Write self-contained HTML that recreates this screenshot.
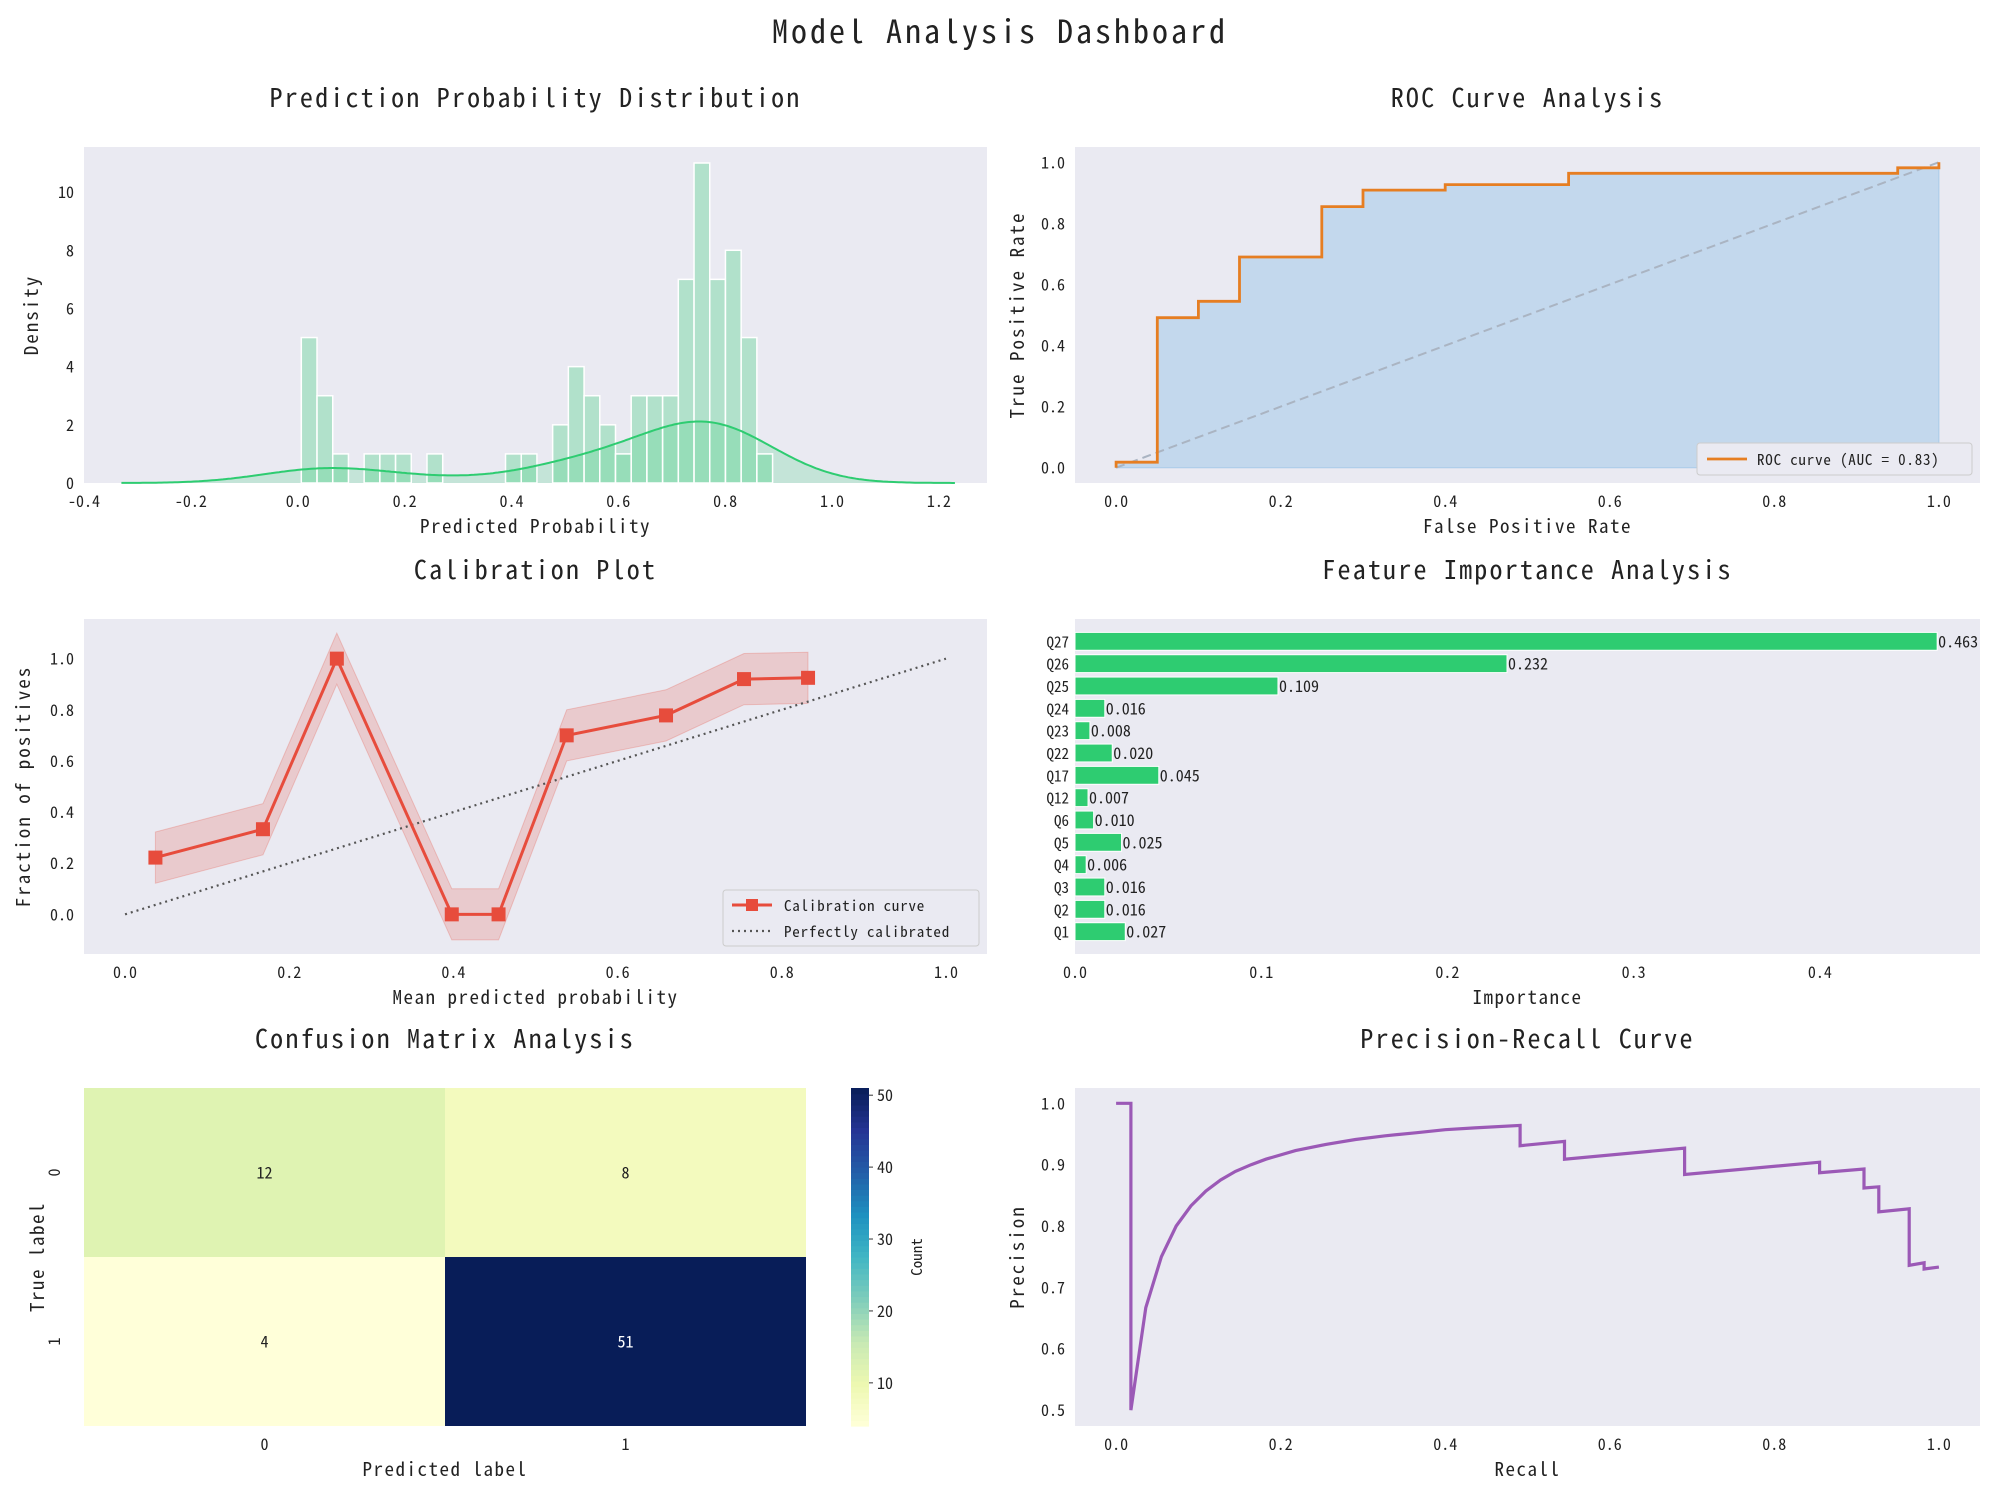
<!DOCTYPE html>
<html><head><meta charset="utf-8"><style>
html,body{margin:0;padding:0;background:#fff}
svg{display:block;font-family:"WenQuanYi Zen Hei Mono","Noto Sans Mono CJK SC","Liberation Mono",monospace}
</style></head><body>
<svg id="c" width="2000" height="1500" viewBox="0 0 2000 1500" xmlns="http://www.w3.org/2000/svg">
<text x="1000" y="43" text-anchor="middle" font-size="32" letter-spacing="3" fill="#222">Model Analysis Dashboard</text>
</svg>
<script>
// ---- data ----
const histBinStart = 0.0067;
const histBinWidth = 0.0294;
const histCounts = [5,3,1,0,1,1,1,0,1,0,0,0,0,1,1,0,2,4,3,2,1,3,3,3,7,11,7,8,5,1];
const histXTicks = [-0.4,-0.2,0.0,0.2,0.4,0.6,0.8,1.0,1.2];
const histYTicks = [0,2,4,6,8,10];
const kdeScale = 0.45;
const rocFpr = [0,0,0.05,0.05,0.1,0.1,0.15,0.15,0.25,0.25,0.3,0.3,0.4,0.4,0.55,0.55,0.95,0.95,1,1];
const rocTpr = [0,0.018,0.018,0.491,0.491,0.545,0.545,0.69,0.69,0.855,0.855,0.909,0.909,0.927,0.927,0.964,0.964,0.982,0.982,1];
const unitTicks = [0,0.2,0.4,0.6,0.8,1.0];
const calX = [0.037,0.168,0.258,0.398,0.455,0.538,0.659,0.754,0.832];
const calY = [0.222,0.333,1.0,0.0,0.0,0.70,0.778,0.92,0.925];
const featNames = ["Q1","Q2","Q3","Q4","Q5","Q6","Q12","Q17","Q22","Q23","Q24","Q25","Q26","Q27"];
const featVals = [0.027,0.016,0.016,0.006,0.025,0.010,0.007,0.045,0.020,0.008,0.016,0.109,0.232,0.463];
const featXTicks = [0,0.1,0.2,0.3,0.4];
const cmVals = [[12,8],[4,51]];
const cbTicks = [10,20,30,40,50];
const prRecall = [0,0.018,0.018,0.036,0.055,0.073,0.091,0.109,0.127,0.145,0.164,0.182,0.218,0.255,0.291,0.327,0.364,0.4,0.436,0.491,0.491,0.545,0.545,0.691,0.691,0.855,0.855,0.909,0.909,0.927,0.927,0.964,0.964,0.982,0.982,1.0];
const prPrecision = [1,1,0.5,0.667,0.75,0.8,0.833,0.857,0.875,0.889,0.9,0.909,0.923,0.933,0.941,0.947,0.952,0.957,0.96,0.964,0.931,0.938,0.909,0.927,0.884,0.904,0.887,0.893,0.862,0.864,0.823,0.828,0.736,0.740,0.730,0.733];
const prYTicks = [0.5,0.6,0.7,0.8,0.9,1.0];

const svg = document.getElementById('c');
const NS = 'http://www.w3.org/2000/svg';
function el(tag, attrs, parent){const e=document.createElementNS(NS,tag);for(const k in attrs)e.setAttribute(k,attrs[k]);(parent||svg).appendChild(e);return e;}
function txt(x,y,s,size,anchor,parent,rot){const t=el('text',{x:x,y:y,'font-size':size,'text-anchor':anchor||'middle',fill:'#222'},parent);if(rot)t.setAttribute('transform','rotate(-90 '+x+' '+y+')');t.textContent=s;return t;}
function axes(name,x0,y0,w,h,xmin,xmax,ymin,ymax){
  const g=el('g',{});
  
  
  const bg=el('rect',{x:x0,y:y0,width:w,height:h,fill:'#eaeaf2'},g);
  
  
  return {g:g,sx:v=>x0+(v-xmin)/(xmax-xmin)*w,sy:v=>y0+h-(v-ymin)/(ymax-ymin)*h,x0,y0,w,h};
}
function fmt(v,d){return v.toFixed(d);}
function xticks(a,vals,d,name){vals.forEach(v=>{const t=txt(a.sx(v),a.y0+a.h+24,fmt(v,d),16,'middle',a.g);});}
function yticks(a,vals,d,name){vals.forEach(v=>{const t=txt(a.x0-10,a.sy(v)+6,fmt(v,d),16,'end',a.g);});}
function labels(a,title,xl,yl,name,ylx){
  let t=txt(a.x0+a.w/2,a.y0-40,title,26,'middle',a.g);t.setAttribute('letter-spacing','2.2');
  t=txt(a.x0+a.w/2,a.y0+a.h+50,xl,19,'middle',a.g);t.setAttribute('letter-spacing','1.5');
  t=txt(ylx,a.y0+a.h/2,yl,19,'middle',a.g,true);t.setAttribute('letter-spacing','2');
}
function pathOf(xs,ys,a){return xs.map((x,i)=>(i?'L':'M')+a.sx(x).toFixed(1)+','+a.sy(ys[i]).toFixed(1)).join('');}

// ---- Panel 1: histogram ----
(function(){
  const a=axes('histogram-panel',84,147,903,336,-0.4,1.29,0,11.55);
  let n=0,m=0;histCounts.forEach((c,i)=>{const x=histBinStart+(i+0.5)*histBinWidth;n+=c;m+=c*x;});m/=n;
  let v=0;histCounts.forEach((c,i)=>{const x=histBinStart+(i+0.5)*histBinWidth;v+=c*(x-m)*(x-m);});v/=(n-1);
  const bw=Math.sqrt(v)*Math.pow(n,-0.2);
  const xs=[],ys=[];
  for(let x=-0.33;x<=1.23;x+=0.005){let d=0;histCounts.forEach((c,i)=>{const xc=histBinStart+(i+0.5)*histBinWidth;d+=c*Math.exp(-0.5*Math.pow((x-xc)/bw,2));});d=d/(n*bw*Math.sqrt(2*Math.PI));xs.push(x);ys.push(d*n*histBinWidth*kdeScale);}
  const p=pathOf(xs,ys,a);
  const f=el('path',{d:p+'L'+a.sx(xs[xs.length-1])+','+a.sy(0)+'L'+a.sx(xs[0])+','+a.sy(0)+'Z',fill:'#2ecc71','fill-opacity':0.2},a.g);
  
  histCounts.forEach((c,i)=>{ if(c<=0) return;
    const x0=histBinStart+i*histBinWidth;
    const r=el('rect',{x:a.sx(x0),y:a.sy(c),width:a.sx(x0+histBinWidth)-a.sx(x0),height:a.sy(0)-a.sy(c),fill:'#2ecc71','fill-opacity':0.3,stroke:'#fff','stroke-width':1.5},a.g);
    
    
  });
  const l=el('path',{d:p,fill:'none',stroke:'#2ecc71','stroke-width':2},a.g);
  
  xticks(a,histXTicks,1,'histogram');
  histYTicks.forEach(t=>{const e=txt(a.x0-10,a.sy(t)+6,String(t),16,'end',a.g);});
  labels(a,'Prediction Probability Distribution','Predicted Probability','Density','histogram',38);
})();

// ---- Panel 2: ROC ----
(function(){
  const a=axes('roc-panel',1075,147,905,336,-0.05,1.05,-0.05,1.05);
  const p=pathOf(rocFpr,rocTpr,a);
  const f=el('path',{d:p+'L'+a.sx(1)+','+a.sy(0)+'L'+a.sx(0)+','+a.sy(0)+'Z',fill:'#a9cbe9','fill-opacity':0.6,stroke:'#a9cbe9'},a.g);
  
  const d=el('line',{x1:a.sx(0),y1:a.sy(0),x2:a.sx(1),y2:a.sy(1),stroke:'#aab4c2','stroke-width':2,'stroke-dasharray':'9,5'},a.g);
  
  const l=el('path',{d:p,fill:'none',stroke:'#e67e22','stroke-width':2.8},a.g);
  
  xticks(a,unitTicks,1,'roc');yticks(a,unitTicks,1,'roc');
  labels(a,'ROC Curve Analysis','False Positive Rate','True Positive Rate','roc',1024);
  const lg=el('g',{},a.g);
  el('rect',{x:1697,y:443,width:275,height:32,fill:'#eaeaf2',stroke:'#ccc',rx:3},lg);
  el('line',{x1:1707,y1:459,x2:1747,y2:459,stroke:'#e67e22','stroke-width':2.8},lg);
  txt(1757,465,'ROC curve (AUC = 0.83)',15,'start',lg).setAttribute('letter-spacing','0.8');
})();

// ---- Panel 3: calibration ----
(function(){
  const a=axes('calibration-panel',84,619,903,335,-0.05,1.05,-0.155,1.155);
  const up=calX.map((x,i)=>[x,calY[i]+0.1]),dn=calX.map((x,i)=>[x,calY[i]-0.1]).reverse();
  const bd=up.concat(dn).map((q,i)=>(i?'L':'M')+a.sx(q[0]).toFixed(1)+','+a.sy(q[1]).toFixed(1)).join('')+'Z';
  const b=el('path',{d:bd,fill:'#e74c3c','fill-opacity':0.2,stroke:'#e74c3c','stroke-opacity':0.25},a.g);
  
  const d=el('line',{x1:a.sx(0),y1:a.sy(0),x2:a.sx(1),y2:a.sy(1),stroke:'#555','stroke-width':2.2,'stroke-dasharray':'2,4'},a.g);
  
  const l=el('path',{d:pathOf(calX,calY,a),fill:'none',stroke:'#e74c3c','stroke-width':3},a.g);
  
  calX.forEach((x,i)=>{const m=el('rect',{x:a.sx(x)-7,y:a.sy(calY[i])-7,width:14,height:14,fill:'#e74c3c'},a.g);
    });
  xticks(a,unitTicks,1,'calibration');yticks(a,unitTicks,1,'calibration');
  labels(a,'Calibration Plot','Mean predicted probability','Fraction of positives','calibration',30);
  const lg=el('g',{},a.g);
  el('rect',{x:723,y:890,width:256,height:56,fill:'#eaeaf2',stroke:'#ccc',rx:3},lg);
  el('line',{x1:732,y1:905,x2:772,y2:905,stroke:'#e74c3c','stroke-width':3},lg);
  el('rect',{x:746,y:899,width:12,height:12,fill:'#e74c3c'},lg);
  txt(784,911,'Calibration curve',15,'start',lg).setAttribute('letter-spacing','0.8');
  el('line',{x1:732,y1:931,x2:772,y2:931,stroke:'#555','stroke-width':2.2,'stroke-dasharray':'2,4'},lg);
  txt(784,937,'Perfectly calibrated',15,'start',lg).setAttribute('letter-spacing','0.8');
})();

// ---- Panel 4: feature importance ----
(function(){
  const a=axes('feature-importance-panel',1075,619,905,335,0,0.486,-1,14);
  featVals.forEach((v,i)=>{
    const r=el('rect',{x:a.sx(0),y:a.sy(i+0.4),width:a.sx(v)-a.sx(0),height:a.sy(i-0.4)-a.sy(i+0.4),fill:'#2ecc71',stroke:'#fff','stroke-width':1},a.g);
    
    
    const t=txt(a.sx(v)+1,a.sy(i)+6,v.toFixed(3),16,'start',a.g);
    
    const n=txt(a.x0-6,a.sy(i)+6,featNames[i],15,'end',a.g);
    
  });
  xticks(a,featXTicks,1,'feature');
  labels(a,'Feature Importance Analysis','Importance','','feature',1030);
})();

// ---- Panel 5: confusion matrix ----
(function(){
  const g=el('g',{});
  const x0=84,y0=1088,W=722,H=338,cw=W/2,ch=H/2,vmin=4,vmax=51;
  const stops=[[255,255,217],[237,248,177],[199,233,180],[127,205,187],[65,182,196],[29,145,192],[34,94,168],[37,52,148],[8,29,88]];
  function col(v){let t=(v-vmin)/(vmax-vmin);t=Math.max(0,Math.min(1,t))*(stops.length-1);const i=Math.min(Math.floor(t),stops.length-2),f=t-i;const c=stops[i].map((s,k)=>Math.round(s+(stops[i+1][k]-s)*f));return 'rgb('+c.join(',')+')';}
  cmVals.forEach((row,r)=>row.forEach((v,c)=>{
    const cell=el('rect',{x:x0+c*cw,y:y0+r*ch,width:cw,height:ch,fill:col(v)},g);
    
    const t=txt(x0+c*cw+cw/2,y0+r*ch+ch/2+6,String(v),16,'middle',g);
    t.setAttribute('fill',(v-vmin)/(vmax-vmin)>0.5?'#fff':'#222');
    
  }));
  [0,1].forEach(i=>{
    let t=txt(x0+i*cw+cw/2,y0+H+24,String(i),16,'middle',g);
    t=txt(x0-24,y0+i*ch+ch/2,String(i),16,'middle',g,true);
  });
  let t=txt(x0+W/2,y0-40,'Confusion Matrix Analysis',26,'middle',g);t.setAttribute('letter-spacing','2.2');
  t=txt(x0+W/2,y0+H+50,'Predicted label',19,'middle',g);t.setAttribute('letter-spacing','1.5');
  t=txt(44,y0+H/2,'True label',19,'middle',g,true);t.setAttribute('letter-spacing','1.5');
  const cb=el('g',{},g);
  const cx=851,cwid=18;
  const N=60;for(let i=0;i<N;i++){const v=vmin+(vmax-vmin)*(i+0.5)/N;el('rect',{x:cx,y:y0+H-(i+1)*H/N,width:cwid,height:H/N+0.6,fill:col(v)},cb);}
  cbTicks.forEach(v=>{const y=y0+H-(v-vmin)/(vmax-vmin)*H;el('line',{x1:cx+cwid,y1:y,x2:cx+cwid+4,y2:y,stroke:'#333'},cb);const e=txt(cx+cwid+8,y+6,String(v),16,'start',cb);});
  t=txt(922,y0+H/2,'Count',15,'middle',cb,true);
})();

// ---- Panel 6: PR curve ----
(function(){
  const a=axes('pr-curve-panel',1075,1088,905,338,-0.05,1.05,0.474,1.025);
  const l=el('path',{d:pathOf(prRecall,prPrecision,a),fill:'none',stroke:'#9b59b6','stroke-width':3.2,'stroke-linejoin':'miter'},a.g);
  
  xticks(a,unitTicks,1,'pr');yticks(a,prYTicks,1,'pr');
  labels(a,'Precision-Recall Curve','Recall','Precision','pr',1024);
})();
</script>
</body></html>
